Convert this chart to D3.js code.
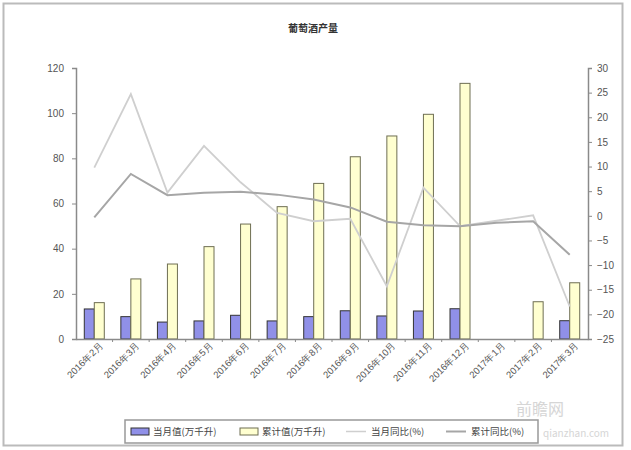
<!DOCTYPE html>
<html><head><meta charset="utf-8">
<script src="https://cdn.jsdelivr.net/npm/d3@7"></script>
<style>body{margin:0;background:#fff;} svg{display:block;font-family:"Noto Sans CJK SC","DejaVu Sans",sans-serif;}</style>
</head><body>
<svg id="c" width="631" height="450"></svg>
<script>
const categories = ["2016年2月","2016年3月","2016年4月","2016年5月","2016年6月","2016年7月","2016年8月","2016年9月","2016年10月","2016年11月","2016年12月","2017年1月","2017年2月","2017年3月"];
const monthValue = [13.3, 9.9, 7.5, 8.0, 10.5, 8.0, 9.9, 12.5, 10.2, 12.4, 13.4, null, null, 8.1];
const cumValue = [16.1, 26.6, 33.2, 40.9, 50.9, 58.6, 68.9, 80.7, 89.9, 99.5, 113.2, null, 16.5, 24.9];
const monthYoY = [9.8, 24.7, 4.7, 14.2, 6.8, 0.6, -1.1, -0.6, -14.3, 5.7, -2.1, -1.0, 0.1, -18.4];
const cumYoY = [-0.3, 8.5, 4.2, 4.7, 4.9, 4.3, 3.3, 1.7, -1.2, -1.9, -2.1, -1.4, -1.1, -7.9];
const leftTicks = [0, 20, 40, 60, 80, 100, 120];
const rightTicks = [-25, -20, -15, -10, -5, 0, 5, 10, 15, 20, 25, 30];
const legendLabels = ["当月值(万千升)", "累计值(万千升)", "当月同比(%)", "累计同比(%)"];
const title = "葡萄酒产量";

const svg = d3.select("#c");
// outer frame
svg.append("rect").attr("x",3.5).attr("y",3.5).attr("width",619).attr("height",442)
  .attr("fill","#fff").attr("stroke","#bbb").attr("stroke-width",2);

const L = 76, R = 588, T = 68, B = 339;
const x = d3.scaleBand().domain(categories).range([L, R]);
const yL = d3.scaleLinear().domain([0,120]).range([B, T]);
const yR = d3.scaleLinear().domain([-25,30]).range([B, T]);

svg.append("text").attr("x",313).attr("y",32).attr("text-anchor","middle")
  .attr("font-size",10).attr("font-weight","bold").attr("fill","#333").text(title);

const axisColor = "#8a8a8a", labelColor = "#555";

// left axis
const gl = svg.append("g").attr("transform",`translate(${L},0)`)
  .call(d3.axisLeft(yL).tickValues(leftTicks).tickSize(4).tickPadding(8));
// right axis
const gr = svg.append("g").attr("transform",`translate(${R},0)`)
  .call(d3.axisRight(yR).tickValues(rightTicks).tickSize(4).tickPadding(5));
[gl, gr].forEach(g => {
  g.select(".domain").attr("stroke",axisColor).attr("stroke-width",1.5);
  g.selectAll(".tick line").attr("stroke",axisColor);
  g.selectAll("text").attr("fill",labelColor).attr("font-size",10).attr("font-family","'Liberation Sans',Arial,sans-serif");
});

const bw = 10;
// month bars
svg.append("g").selectAll("rect").data(categories.map((c,i)=>({c, v: monthValue[i]})).filter(d=>d.v!=null))
  .join("rect")
  .attr("x", d => x(d.c) + x.bandwidth()/2 - bw)
  .attr("y", d => yL(d.v)).attr("width", bw).attr("height", d => yL(0)-yL(d.v))
  .attr("fill","#9090e8").attr("stroke","#333").attr("stroke-width",1);
// cumulative bars
svg.append("g").selectAll("rect").data(categories.map((c,i)=>({c, v: cumValue[i]})).filter(d=>d.v!=null))
  .join("rect")
  .attr("x", d => x(d.c) + x.bandwidth()/2)
  .attr("y", d => yL(d.v)).attr("width", bw).attr("height", d => yL(0)-yL(d.v))
  .attr("fill","#ffffd0").attr("stroke","#6e6e52").attr("stroke-width",1);

// bottom axis
const gb = svg.append("g").attr("transform",`translate(0,${B})`)
  .call(d3.axisBottom(x).tickSize(0).tickPadding(6));
gb.select(".domain").attr("stroke",axisColor).attr("stroke-width",1.5);
gb.selectAll(".tick text").attr("fill",labelColor).attr("font-size",9.5)
  .attr("text-anchor","end").attr("dx","0.2em").attr("dy","0.6em")
  .attr("transform","rotate(-45)");
// tick marks between categories
svg.append("g").selectAll("line").data(categories.slice(1)).join("line")
  .attr("x1", d => x(d)).attr("x2", d => x(d)).attr("y1", B).attr("y2", B+3)
  .attr("stroke", axisColor);

// lines
const line = yS => d3.line().x((d,i)=>x(categories[i]) + x.bandwidth()/2).y(d=>yS(d));
svg.append("path").datum(monthYoY).attr("d", line(yR)).attr("fill","none")
  .attr("stroke","#cfcfcf").attr("stroke-width",1.8);
svg.append("path").datum(cumYoY).attr("d", line(yR)).attr("fill","none")
  .attr("stroke","#a6a6a6").attr("stroke-width",2);

// legend
const lg = svg.append("g");
lg.append("rect").attr("x",125).attr("y",420).attr("width",413).attr("height",23)
  .attr("fill","#fff").attr("stroke","#999").attr("stroke-width",1.5);
const lf = 9.5, ly = 435;
lg.append("rect").attr("x",131).attr("y",428).attr("width",18).attr("height",7).attr("fill","#9090e8").attr("stroke","#333");
lg.append("text").attr("x",153).attr("y",ly).attr("font-size",lf).attr("fill","#444").text(legendLabels[0]);
lg.append("rect").attr("x",240).attr("y",428).attr("width",18).attr("height",7).attr("fill","#ffffd0").attr("stroke","#6e6e52");
lg.append("text").attr("x",262).attr("y",ly).attr("font-size",lf).attr("fill","#444").text(legendLabels[1]);
lg.append("line").attr("x1",346).attr("x2",366).attr("y1",431.5).attr("y2",431.5).attr("stroke","#cfcfcf").attr("stroke-width",1.5);
lg.append("text").attr("x",371).attr("y",ly).attr("font-size",lf).attr("fill","#444").text(legendLabels[2]);
lg.append("line").attr("x1",446).attr("x2",466).attr("y1",431.5).attr("y2",431.5).attr("stroke","#a6a6a6").attr("stroke-width",2);
lg.append("text").attr("x",471).attr("y",ly).attr("font-size",lf).attr("fill","#444").text(legendLabels[3]);

// watermark
svg.append("text").attr("x",516).attr("y",415).attr("font-size",16).attr("fill","#ccc").attr("opacity",0.8).text("前瞻网");
svg.append("text").attr("x",543).attr("y",437).attr("font-size",10).attr("fill","#ccc").attr("opacity",0.8).text("qianzhan.com");
</script>
</body></html>
